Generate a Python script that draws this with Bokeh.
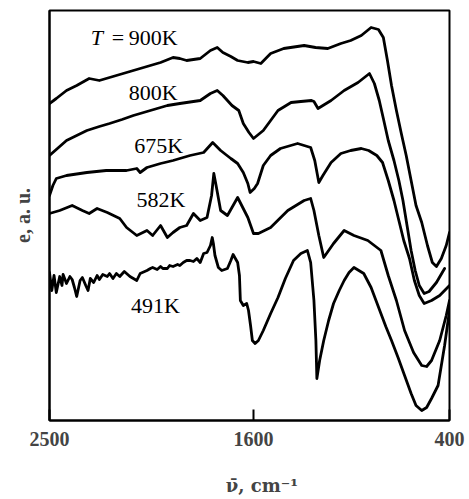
from bokeh.plotting import figure
from bokeh.models import FixedTicker, Range1d
from bokeh.core.properties import value
from bokeh.embed import file_html
from bokeh.resources import INLINE

# Emission spectra, e (a.u.) against wavenumber (cm^-1), at five temperatures
wn_900 = [2500, 2470, 2425, 2380, 2325, 2280, 2235, 2205, 2145, 2100, 2055, 2010, 1955, 1925,
          1895, 1835, 1790, 1760, 1735, 1700, 1670, 1625, 1600, 1555, 1495, 1415, 1290, 1220,
          1145, 1065, 1005, 940, 880, 835, 805, 780, 755, 725, 695, 665, 635, 605, 570, 535,
          505, 480, 450, 420, 400]
e_900 = [317, 322, 330, 335, 342, 340, 343, 345, 349, 352, 355, 358, 363, 362,
         360, 362, 370, 373, 368, 364, 360, 358, 359, 357, 367, 372, 375, 373,
         372, 377, 380, 385, 393, 391, 383, 360, 335, 310, 287, 265, 240, 215, 198, 175,
         158, 154, 162, 175, 188]

wn_800 = [2500, 2465, 2425, 2380, 2335, 2280, 2235, 2180, 2130, 2055, 1980, 1925, 1895, 1835,
          1790, 1760, 1735, 1715, 1695, 1665, 1645, 1620, 1600, 1570, 1540, 1495, 1450, 1370,
          1310, 1245, 1230, 1205, 1175, 1125, 1045, 960, 890, 860, 830, 805, 775, 740, 710,
          685, 660, 635, 610, 585, 555, 525, 480, 430]
e_800 = [265, 272, 280, 285, 290, 294, 297, 301, 305, 310, 315, 317, 318, 320,
         327, 330, 325, 320, 315, 310, 297, 288, 282, 286, 290, 300, 310, 318,
         319, 320, 319, 312, 315, 320, 330, 338, 347, 337, 320, 302, 280, 260, 240,
         220, 195, 170, 150, 135, 127, 129, 138, 152]

wn_675 = [2500, 2485, 2470, 2425, 2335, 2250, 2160, 2115, 2100, 2070, 2010, 1955, 1880, 1820,
          1780, 1745, 1700, 1670, 1645, 1625, 1615, 1595, 1575, 1540, 1495, 1435, 1330, 1250,
          1225, 1200, 1175, 1125, 1065, 1005, 940, 895, 845, 810, 775, 740, 710, 680, 645,
          615, 585, 555, 510, 460, 400]
e_675 = [225, 235, 242, 245, 248, 250, 250, 252, 248, 253, 257, 260, 265, 268,
         278, 270, 262, 257, 248, 237, 228, 232, 237, 255, 265, 272, 277, 273,
         260, 238, 245, 258, 267, 270, 272, 270, 265, 258, 240, 220, 200, 180, 162,
         140, 125, 117, 120, 125, 135]

wn_582 = [2500, 2455, 2400, 2355, 2325, 2290, 2245, 2190, 2160, 2115, 2070, 2045, 2010, 1980,
          1955, 1925, 1895, 1865, 1835, 1805, 1785, 1775, 1765, 1745, 1715, 1670, 1625, 1600,
          1570, 1495, 1390, 1290, 1250, 1230, 1200, 1170, 1110, 1045, 985, 900, 820, 775,
          725, 675, 620, 570, 540, 510, 460, 420, 400]
e_582 = [207, 210, 215, 210, 207, 212, 208, 202, 193, 185, 190, 185, 195, 183,
         188, 193, 195, 207, 200, 203, 225, 247, 235, 210, 205, 223, 203, 187,
         187, 193, 210, 220, 222, 210, 185, 163, 177, 190, 185, 180, 170, 145,
         120, 90, 68, 55, 54, 60, 80, 105, 120]

wn_491 = [2500, 2490, 2480, 2470, 2455, 2445, 2440, 2425, 2410, 2400, 2390, 2380, 2365, 2355,
          2340, 2330, 2320, 2305, 2290, 2280, 2265, 2245, 2235, 2220, 2205, 2190, 2170, 2160,
          2145, 2130, 2115, 2100, 2090, 2070, 2055, 2045, 2025, 2010, 2000, 1980, 1970, 1955,
          1935, 1925, 1910, 1895, 1880, 1865, 1850, 1835, 1820, 1805, 1790, 1782, 1777, 1770,
          1755, 1740, 1715, 1700, 1690, 1670, 1662, 1658, 1645, 1630, 1622, 1613, 1605, 1590,
          1570, 1540, 1495, 1450, 1405, 1355, 1310, 1270, 1250, 1230, 1218, 1212, 1195, 1170,
          1140, 1110, 1075, 1045, 1015, 985, 955, 925, 880, 850, 820, 790, 755, 715, 675,
          635, 605, 570, 540, 510, 470, 430, 400]
e_491 = [148, 130, 145, 128, 144, 135, 146, 137, 144, 141, 133, 124, 140, 143,
         135, 130, 142, 138, 145, 141, 146, 144, 147, 142, 147, 144, 149, 147,
         144, 142, 140, 147, 148, 150, 152, 153, 151, 154, 152, 152, 155, 154,
         156, 155, 158, 160, 160, 159, 162, 158, 167, 168, 175, 183, 177, 165,
         153, 150, 152, 160, 166, 158, 145, 120, 115, 117, 110, 95, 80, 77,
         80, 90, 107, 123, 142, 160, 167, 170, 158, 120, 80, 42, 60, 80,
         100, 117, 130, 140, 148, 153, 150, 147, 133, 120, 107, 94, 80, 63, 45,
         27, 15, 10, 13, 22, 35, 75, 110]

series = [
    (wn_900, e_900),
    (wn_800, e_800),
    (wn_675, e_675),
    (wn_582, e_582),
    (wn_491, e_491),
]

curve_labels = ["800K", "675K", "582K", "491K"]
tick_wn = [2500, 1600, 400]
tick_text = ["2500", "1600", "400"]

# The wavenumber scale is expanded above 1600 cm^-1: 900 cm^-1 on the left
# part of the axis, 1200 cm^-1 on the right part.
AXIS_LEN = 400
BREAK_POS = 204


def axis_pos(wn):
    if wn >= 1600:
        return (2500 - wn) * BREAK_POS / 900.0
    return BREAK_POS + (1600 - wn) * (AXIS_LEN - BREAK_POS) / 1200.0


SERIF = "Liberation Serif"

p = figure(
    frame_width=400, frame_height=410,
    min_border_left=49, min_border_right=20, min_border_top=10, min_border_bottom=79,
    x_range=Range1d(0, AXIS_LEN), y_range=Range1d(0, 410),
    output_backend="svg", toolbar_location=None,
    background_fill_color="white", border_fill_color="white",
)
p.grid.visible = False
p.outline_line_color = "black"
p.outline_line_width = 2

for wn, e in series:
    p.line([axis_pos(w) for w in wn], e, line_color="black", line_width=2.8,
           line_join="round", line_cap="round")

# curve annotations, right-aligned
lab_wn = [1935, 1910, 1900, 1925]
lab_e = [328, 275, 221, 115]
p.text([axis_pos(w) for w in lab_wn], lab_e, text=curve_labels,
       text_font=value(SERIF), text_font_size="22px", text_align="right",
       text_baseline="middle", text_color="black")
p.text([axis_pos(2318)], [383], text=["T"], text_font=value(SERIF),
       text_font_size="22px", text_font_style="italic", text_align="left",
       text_baseline="middle", text_color="black")
p.text([axis_pos(1935)], [383], text=["=\u2009900K"], text_font=value(SERIF),
       text_font_size="22px", text_align="right", text_baseline="middle",
       text_color="black")

xa = p.xaxis[0]
xa.ticker = FixedTicker(ticks=[axis_pos(w) for w in tick_wn])
xa.major_label_overrides = {axis_pos(w): t for w, t in zip(tick_wn, tick_text)}
xa.major_tick_in = 11
xa.major_tick_out = 0
xa.major_tick_line_width = 2
xa.minor_tick_line_color = None
xa.axis_line_width = 2
xa.major_label_text_font = SERIF
xa.major_label_text_font_size = "20px"
xa.major_label_text_font_style = "bold"
xa.major_label_standoff = 11
xa.axis_label = "\u00a0\u00a0\u00a0\u00a0ν\u0304, cm⁻¹"
xa.axis_label_text_font = "DejaVu Serif"
xa.axis_label_text_font_size = "18px"
xa.axis_label_text_font_style = "bold"
xa.axis_label_standoff = 26

ya = p.yaxis[0]
ya.ticker = FixedTicker(ticks=[])
ya.major_tick_in = 0
ya.major_tick_out = 0
ya.minor_tick_line_color = None
ya.axis_line_width = 2
ya.axis_label = "e, a. u."
ya.axis_label_text_font = SERIF
ya.axis_label_text_font_size = "20px"
ya.axis_label_text_font_style = "bold"
ya.axis_label_standoff = 16

open("out.html", "w").write(file_html(p, INLINE))
